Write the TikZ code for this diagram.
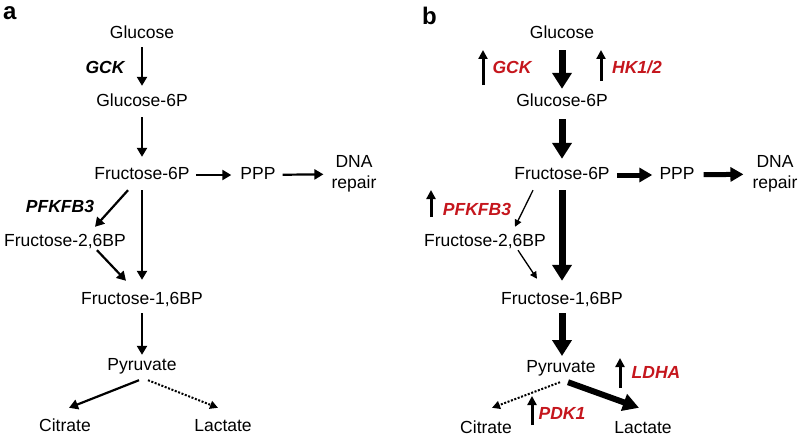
\documentclass[tikz,border=0pt]{standalone}
\usepackage{fontspec}
\setmainfont{Liberation Sans}
\usepackage{tikz}
\usetikzlibrary{arrows.meta,positioning}
\definecolor{upred}{RGB}{197,22,29}
\tikzset{every node/.append style={font=\fontsize{17.5}{21}\selectfont}}
\tikzset{met/.style={inner sep=3pt, text height=12.5pt, text depth=3.5pt}}
\tikzset{enz/.style={met, font=\fontsize{17.5}{21}\selectfont\bfseries\itshape}}
\tikzset{enzup/.style={enz, text=upred}}
\tikzset{flow/.style={-{Triangle[width=10pt,length=9pt]}, line width=2.2pt}}
\tikzset{slimflow/.style={-{Triangle[width=7pt,length=7pt]}, line width=1.3pt}}
\tikzset{midflow/.style={-{Triangle[width=14pt,length=13pt]}, line width=5pt}}
\tikzset{bigflow/.style={-{Triangle[width=19pt,length=16pt]}, line width=7pt}}
\tikzset{lowflow/.style={-{Triangle[width=8pt,length=8pt]}, line width=2pt,
    dash pattern=on 2pt off 1.6pt}}
\tikzset{uparrow/.style={-{Triangle[width=9pt,length=9pt]}, line width=3pt}}

\begin{document}
\begin{tikzpicture}[x=1pt,y=-1pt]
  \useasboundingbox (0,0) rectangle (800,436);

  % panel a
  \node[anchor=base west, inner sep=0, font=\fontsize{24}{24}\selectfont\bfseries]
    (labA) at (3,20) {a};
  \node[met] (glcA) at (142,34) {Glucose};
  \node[met] (g6pA) at (142,102) {Glucose-6P};
  \node[met] (f6pA) at (142,175) {Fructose-6P};
  \node[met] (pppA) at (258,175) {PPP};
  \node[align=center, inner sep=3pt] (dnaA) at (354,174) {DNA\\repair};
  \node[met] (f26A) at (65,242) {Fructose-2,6BP};
  \node[met] (f16A) at (142,300) {Fructose-1,6BP};
  \node[met] (pyrA) at (142,366) {Pyruvate};
  \node[met] (citA) at (65,427) {Citrate};
  \node[met] (lacA) at (223,427) {Lactate};
  \node[enz] (gckA) at (105,69) {GCK};
  \node[enz] (pfkA) at (60,208) {PFKFB3};

  \draw[flow, shorten <=2pt, shorten >=5pt] (glcA) -- (g6pA);
  \draw[flow, shorten <=4pt, shorten >=7pt] (g6pA) -- (f6pA);
  \draw[flow, shorten <=4pt, shorten >=9pt] (f6pA) -- (f16A);
  \draw[flow, shorten <=2pt] (f16A) -- (pyrA);
  \draw[flow, shorten <=3pt, shorten >=6pt] (f6pA) -- (pppA);
  \draw[flow, shorten <=4pt, shorten >=5pt] (pppA) -- (dnaA);
  \draw[flow] ([shift={(-14,4)}]f6pA.south) -- ([shift={(30,-4)}]f26A.north);
  \draw[flow] ([shift={(32,-3)}]f26A.south) -- ([shift={(-16,-8)}]f16A.north);
  \draw[flow] ([shift={(-3,3)}]pyrA.south) -- ([shift={(4,-8)}]citA.north);
  \draw[lowflow] ([shift={(6,3)}]pyrA.south) -- ([shift={(-5,-8)}]lacA.north);

  % panel b
  \node[anchor=base west, inner sep=0, font=\fontsize{24}{24}\selectfont\bfseries]
    (labB) at (422,25) {b};
  \node[met] (glcB) at (562,34) {Glucose};
  \node[met] (g6pB) at (562,102) {Glucose-6P};
  \node[met] (f6pB) at (562,175) {Fructose-6P};
  \node[met] (pppB) at (677,175) {PPP};
  \node[align=center, inner sep=3pt] (dnaB) at (775,174) {DNA\\repair};
  \node[met] (f26B) at (485,242) {Fructose-2,6BP};
  \node[met] (f16B) at (562,300) {Fructose-1,6BP};
  \node[met] (pyrB) at (561,368) {Pyruvate};
  \node[met] (citB) at (486,429) {Citrate};
  \node[met] (lacB) at (643,429) {Lactate};
  \node[enzup] (gckB) at (512,69) {GCK};
  \node[enzup] (hkB) at (637,69) {HK1/2};
  \node[enzup] (pfkB) at (477,211) {PFKFB3};
  \node[enzup] (pdkB) at (562,415) {PDK1};
  \node[enzup] (ldhB) at (656,374) {LDHA};

  \draw[bigflow, shorten <=5pt, shorten >=2pt] (glcB) -- (g6pB);
  \draw[bigflow, shorten <=6pt, shorten >=5pt] (g6pB) -- (f6pB);
  \draw[bigflow, shorten <=4pt, shorten >=8pt] (f6pB) -- (f16B);
  \draw[bigflow, shorten <=2pt, shorten >=12pt] (f16B) -- (f16B |- pyrB);
  \draw[midflow, shorten <=4pt, shorten >=4pt] (f6pB) -- (pppB);
  \draw[midflow, shorten <=6pt, shorten >=6pt] (pppB) -- (dnaB);
  \draw[slimflow] ([shift={(-29,4)}]f6pB.south) -- ([shift={(30,-4)}]f26B.north);
  \draw[slimflow] ([shift={(33,-3)}]f26B.south) -- ([shift={(-25,-10)}]f16B.north);
  \draw[lowflow] ([shift={(-1,3)}]pyrB.south) -- ([shift={(6,-10)}]citB.north);
  \draw[-{Triangle[width=17pt,length=16pt]}, line width=6pt]
    ([shift={(7,3)}]pyrB.south) -- ([shift={(-4,-10)}]lacB.north);

  % up-regulated enzymes
  \coordinate (gckLo) at (483,85);  \coordinate (gckHi) at (483,50);
  \coordinate (hkLo) at (601,81);   \coordinate (hkHi) at (601,50);
  \coordinate (pfkLo) at (431,217); \coordinate (pfkHi) at (431,190);
  \coordinate (pdkLo) at (532,425); \coordinate (pdkHi) at (532,396);
  \coordinate (ldhLo) at (620,388); \coordinate (ldhHi) at (620,358);
  \foreach \e in {gck,hk,pfk,pdk,ldh}
    \draw[uparrow] (\e Lo) -- (\e Hi);
\end{tikzpicture}
\end{document}
